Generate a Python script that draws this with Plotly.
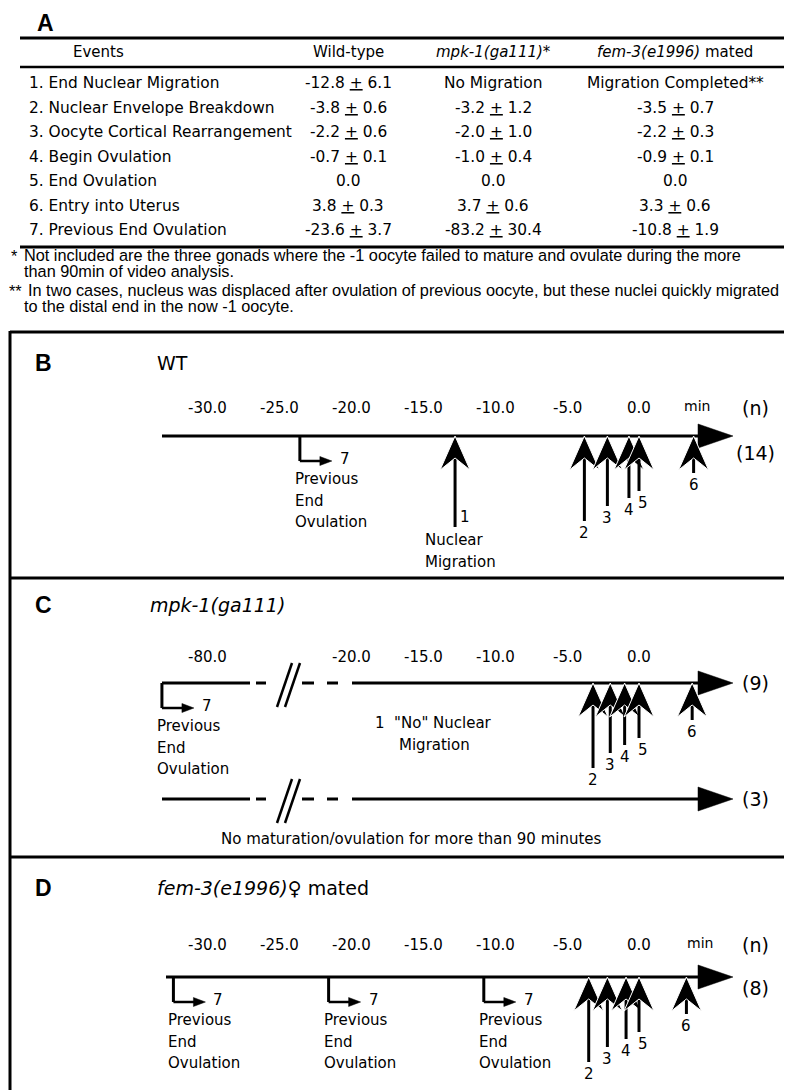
import plotly.graph_objects as go

# ------------------------------------------------------------------ data
events = ["1. End Nuclear Migration", "2. Nuclear Envelope Breakdown",
          "3. Oocyte Cortical Rearrangement", "4. Begin Ovulation",
          "5. End Ovulation", "6. Entry into Uterus", "7. Previous End Ovulation"]
col_headers = ["Events", "Wild-type", "<i>mpk-1(ga111)</i>*", "<i>fem-3(e1996)</i> mated"]
wt_mean = [-12.8, -3.8, -2.2, -0.7, 0.0, 3.8, -23.6]
wt_sd = [6.1, 0.6, 0.6, 0.1, None, 0.3, 3.7]
mpk_mean = [None, -3.2, -2.0, -1.0, 0.0, 3.7, -83.2]
mpk_sd = [None, 1.2, 1.0, 0.4, None, 0.6, 30.4]
fem_mean = [None, -3.5, -2.2, -0.9, 0.0, 3.3, -10.8]
fem_sd = [None, 0.7, 0.3, 0.1, None, 0.6, 1.9]
mpk_row1 = "No Migration"
fem_row1 = "Migration Completed**"
n_wt = 14
n_mpk = [9, 3]
n_fem = 8
ticks_main = [-30, -25, -20, -15, -10, -5, 0]
ticks_c_left = [-80]
ticks_c_right = [-20, -15, -10, -5, 0]
footnote1 = ["Not included are the three gonads where the -1 oocyte failed to mature and ovulate during the more",
             "than 90min of video analysis."]
footnote2 = ["In two cases, nucleus was displaced after ovulation of previous oocyte, but these nuclei quickly migrated",
             "to the distal end in the now -1 oocyte."]

# ------------------------------------------------------------------ layout / style
PW, PH = 792, 1090              # page (window) size
OX, OY = 8, 8                   # default body margin of the html page
FW, FH = PW - OX, PH - OY       # figure size so it ends exactly at the window edge
X0, PXM = 639.0, 14.37          # page pixel of 0 min, pixels per minute
C_SHIFT = 50.0                  # broken-axis offset for panel C (left part)
FONT = "DejaVu Sans"
BOLD = "Liberation Sans"
FOOT = "Liberation Sans"
FOOT_SIZE = 16.3
SHAFT = {1: 91, 2: 85, 3: 70, 4: 62, 5: 55, 6: 37}


def pm(p):
    return (p - X0) / PXM


def d(p):
    return p / PXM


def px(p):
    return (p - OX) / FW


shapes = []
ann = []


def text(x, y, s, size=15, xanchor="center", xref="paper", font=FONT, bold=False):
    xx = px(x) if xref == "paper" else x
    ann.append(dict(x=xx, y=y, xref=xref, yref="y", text=s, showarrow=False,
                    xanchor=xanchor, yanchor="middle",
                    font=dict(family=font, size=size, color="black",
                              weight="bold" if bold else "normal")))


def line(x0, y0, x1, y1, w=3, xref="x"):
    if xref == "paper":
        x0, x1 = px(x0), px(x1)
    shapes.append(dict(type="line", xref=xref, yref="y", x0=x0, y0=y0, x1=x1, y1=y1,
                       line=dict(color="black", width=w)))


def poly(pts, xref="x", outline="black", ow=0.5):
    path = "M " + " L ".join(f"{x},{y}" for x, y in pts) + " Z"
    shapes.append(dict(type="path", path=path, xref=xref, yref="y",
                       fillcolor="black", line=dict(color=outline, width=ow)))


def timeline(y, p_start, p_tip=733):
    base = pm(p_tip - 35)
    line(pm(p_start), y, base, y, 3)
    poly([(base, y - 12), (pm(p_tip), y), (base, y + 12)])


def event_arrow(xm, y, k, xref="x"):
    L = SHAFT[k]
    line(xm, y + 10, xm, y + L, 3, xref)
    poly([(xm, y), (xm + d(15), y + 34), (xm, y + 22), (xm - d(15), y + 34)],
         xref, outline="white", ow=1)
    if k == 1:
        text(xm + d(10), y + L - 10, "1", 15, xref=xref)
    else:
        dx = 4 if k == 5 else 0
        text(xm + d(dx), y + L + 12, str(k), 15, xref=xref)


def bracket(xm, y, xref="x"):
    yy = y + 25
    line(xm, y, xm, yy, 3, xref)
    line(xm, yy, xm + d(22), yy, 2.5, xref)
    poly([(xm + d(20), yy - 4.5), (xm + d(32), yy), (xm + d(20), yy + 4.5)], xref)
    text(xm + d(45), yy - 2, "7", 15, xref=xref)
    for s, off in (("Previous", 43), ("End", 65), ("Ovulation", 86)):
        text(xm - d(7), y + off, s, 15, xanchor="left", xref=xref)


def pm_txt(m, s):
    if m is None:
        return None
    if s is None:
        return f"{m:.1f}"
    return f'{m:.1f} <span style="text-decoration:underline">+</span> {s:.1f}'


# ------------------------------------------------------------------ panel A (table)
text(45, 23, "A", 23, font=BOLD, bold=True)
line(20, 38, 787, 38, 3, "paper")
line(20, 67, 787, 67, 2.5, "paper")
line(20, 247, 787, 247, 3, "paper")
col_x = [98, 348, 493, 675]
for cx, h in zip(col_x, col_headers):
    text(cx, 52, h, 15)
for i, ev in enumerate(events):
    y = 83 + 24.5 * i
    text(27, y, ev, 15.4, xanchor="left")
    text(col_x[1], y, pm_txt(wt_mean[i], wt_sd[i]), 15.4)
    text(col_x[2], y, pm_txt(mpk_mean[i], mpk_sd[i]) if i else mpk_row1, 15.4)
    text(col_x[3], y, pm_txt(fem_mean[i], fem_sd[i]) if i else fem_row1, 15.4)

text(9, 256, "*", FOOT_SIZE, xanchor="left", font=FOOT)
text(22, 255, footnote1[0], FOOT_SIZE, xanchor="left", font=FOOT)
text(22, 271, footnote1[1], FOOT_SIZE, xanchor="left", font=FOOT)
text(7, 291, "**", FOOT_SIZE, xanchor="left", font=FOOT)
text(26, 290, footnote2[0], FOOT_SIZE, xanchor="left", font=FOOT)
text(22, 306, footnote2[1], FOOT_SIZE, xanchor="left", font=FOOT)

# ------------------------------------------------------------------ frames
line(10, 332, 792, 332, 3, "paper")
line(10, 331, 10, 1090, 3, "paper")
line(10, 578, 792, 578, 3, "paper")
line(10, 857, 792, 857, 3, "paper")

# ------------------------------------------------------------------ panel B
yB = 436
text(43, 363, "B", 23, font=BOLD, bold=True)
text(155, 363, "WT", 19, xanchor="left")
for t in ticks_main:
    text(t, 408, f"{t:.1f}", 15, xref="x")
text(697, 406, "min", 14)
text(755, 408, "(n)", 19)
text(755, 453, f"({n_wt})", 19)
timeline(yB, 162)
bracket(wt_mean[6], yB)
for k in range(1, 7):
    event_arrow(wt_mean[k - 1], yB, k)
text(wt_mean[0] - d(32), yB + SHAFT[1] + 13, "Nuclear", 15, xanchor="left", xref="x")
text(wt_mean[0] - d(32), yB + SHAFT[1] + 35, "Migration", 15, xanchor="left", xref="x")

# ------------------------------------------------------------------ panel C
yC, yC2 = 683, 799
text(43, 605, "C", 23, font=BOLD, bold=True)
text(148, 605, "<i>mpk-1(ga111)</i>", 19, xanchor="left")
for t in ticks_c_left:
    text(t, 657, f"{t:.1f}", 15, xref="x2")
for t in ticks_c_right:
    text(t, 657, f"{t:.1f}", 15, xref="x")
for yy, n in ((yC, n_mpk[0]), (yC2, n_mpk[1])):
    line(162, yy, 250, yy, 3, "paper")
    line(256, yy, 266, yy, 3, "paper")
    line(302, yy, 314, yy, 3, "paper")
    line(327, yy, 338, yy, 3, "paper")
    line(277, yy + 24, 292, yy - 20, 2.5, "paper")
    line(285, yy + 24, 300, yy - 20, 2.5, "paper")
    timeline(yy, 352)
    text(755, yy, f"({n})", 19)
bracket(mpk_mean[6], yC, "x2")
for k in range(2, 7):
    event_arrow(mpk_mean[k - 1], yC, k)
text(373, 723, '1  "No" Nuclear', 15, xanchor="left")
text(397, 745, "Migration", 15, xanchor="left")
text(411, 839, "No maturation/ovulation for more than 90 minutes", 15)

# ------------------------------------------------------------------ panel D
yD = 977
text(43, 888, "D", 23, font=BOLD, bold=True)
text(155, 888, "<i>fem-3(e1996)</i>\u2640 mated", 19, xanchor="left")
for t in ticks_main:
    text(t, 945, f"{t:.1f}", 15, xref="x")
text(700, 943, "min", 14)
text(755, 945, "(n)", 19)
text(755, 988, f"({n_fem})", 19)
timeline(yD, 166)
for j in (3, 2, 1):
    bracket(fem_mean[6] * j, yD)
for k in range(2, 7):
    event_arrow(fem_mean[k - 1], yD, k)

# ------------------------------------------------------------------ figure
fig = go.Figure()
fig.add_trace(go.Scatter(x=[None], y=[None], xaxis="x", yaxis="y", showlegend=False))
fig.add_trace(go.Scatter(x=[None], y=[None], xaxis="x2", yaxis="y", showlegend=False))
fig.update_layout(
    width=FW, height=FH, margin=dict(l=0, r=0, t=0, b=0),
    paper_bgcolor="white", plot_bgcolor="white", showlegend=False,
    xaxis=dict(range=[pm(OX), pm(PW)], visible=False, fixedrange=True),
    xaxis2=dict(range=[pm(OX) - C_SHIFT, pm(PW) - C_SHIFT], visible=False,
                overlaying="x", fixedrange=True),
    yaxis=dict(range=[PH, OY], visible=False, fixedrange=True),
    shapes=shapes, annotations=ann,
)
fig.write_html("out.html")
